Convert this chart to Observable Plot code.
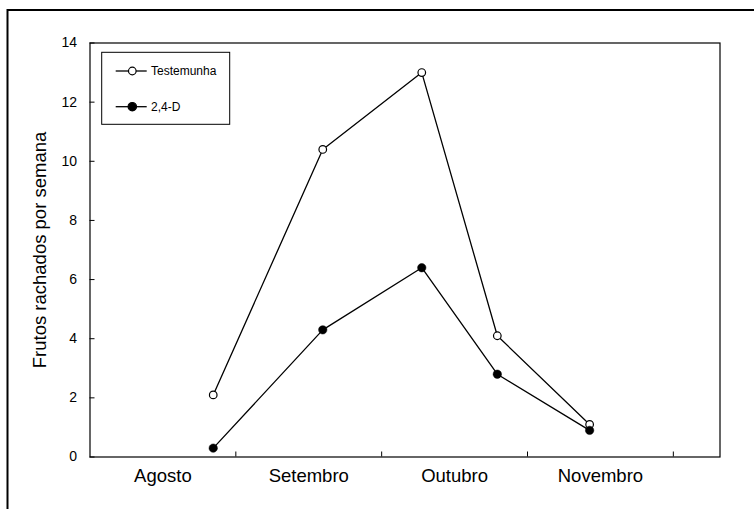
<!DOCTYPE html>
<html>
<head>
<meta charset="utf-8">
<script src="https://cdn.jsdelivr.net/npm/d3@7"></script>
<script src="https://cdn.jsdelivr.net/npm/@observablehq/plot@0.6"></script>
<style>
  html, body { margin: 0; padding: 0; background: #fff; }
  #chart svg { display: block; }
</style>
</head>
<body>
<div id="chart"></div>
<script>
// Month categories (x axis labels) and their centre positions (months since 1 August)
const months = ["Agosto", "Setembro", "Outubro", "Novembro"];
const monthCenters = [0.5, 1.5, 2.5, 3.5];
const monthBounds = [1, 2, 3, 4];
// Sampling positions (months since 1 August)
const weekPos = [0.845, 1.596, 2.275, 2.793, 3.426];
// Series
const testemunha = [2.1, 10.4, 13.0, 4.1, 1.1];
const d24 = [0.3, 4.3, 6.4, 2.8, 0.9];
const seriesNames = ["Testemunha", "2,4-D"];
const yTicks = [0, 2, 4, 6, 8, 10, 12, 14];
const yLabel = "Frutos rachados por semana";

const W = 754, H = 509;
const mL = 89.5, mR = 34.5, mT = 42.5, mB = 52.5;
const plotW = W - mL - mR, plotH = H - mT - mB;

const rows = [];
weekPos.forEach((x, i) => rows.push({x, y: testemunha[i], s: seriesNames[0]}));
weekPos.forEach((x, i) => rows.push({x, y: d24[i], s: seriesNames[1]}));
const rowsT = rows.filter(d => d.s === seriesNames[0]);
const rowsD = rows.filter(d => d.s === seriesNames[1]);

const chart = Plot.plot({
  width: W,
  height: H,
  marginLeft: mL,
  marginRight: mR,
  marginTop: mT,
  marginBottom: mB,
  style: {fontFamily: "'Liberation Sans', Arial, sans-serif", background: "#fff", color: "#000"},
  x: {domain: [0, 4.32]},
  y: {domain: [0, 14]},
  marks: [
    Plot.frame({stroke: "#000", strokeWidth: 1.2}),
    Plot.ruleX(monthBounds, {insetTop: plotH - 5, stroke: "#000", strokeWidth: 1}),
    Plot.ruleY(yTicks, {insetRight: plotW - 5, stroke: "#000", strokeWidth: 1}),
    Plot.axisY({ticks: yTicks, tickSize: 0, tickPadding: 13, fontSize: 14, label: null}),
    Plot.axisX({ticks: monthCenters, tickSize: 0, tickPadding: 12, fontSize: 18.5, label: null,
      tickFormat: v => months[monthCenters.indexOf(v)]}),
    Plot.text([yLabel], {frameAnchor: "left", textAnchor: "middle", lineAnchor: "middle",
      rotate: -90, dx: -50, fontSize: 18.5, fill: "#000"}),
    Plot.line(rows, {x: "x", y: "y", z: "s", stroke: "#000", strokeWidth: 1.3}),
    Plot.dot(rowsT, {x: "x", y: "y", r: 3.8, fill: "#fff", stroke: "#000", strokeWidth: 1.2}),
    Plot.dot(rowsD, {x: "x", y: "y", r: 4.2, fill: "#000", stroke: "#000", strokeWidth: 0.5})
  ]
});

document.getElementById("chart").appendChild(chart);

// Outer figure frame and in-plot legend
const svg = d3.select(chart);
svg.append("rect")
  .attr("x", 7.5).attr("y", 10)
  .attr("width", W + 20).attr("height", H + 20)
  .attr("fill", "none").attr("stroke", "#000").attr("stroke-width", 2);

const lg = svg.append("g")
  .attr("font-family", "'Liberation Sans', Arial, sans-serif")
  .attr("text-anchor", "start");
lg.append("rect")
  .attr("x", 101.7).attr("y", 52.3).attr("width", 128).attr("height", 72)
  .attr("fill", "#fff").attr("stroke", "#000").attr("stroke-width", 1);
const entries = [
  {name: seriesNames[0], y: 71, fill: "#fff", r: 3.8},
  {name: seriesNames[1], y: 106.7, fill: "#000", r: 4.2}
];
entries.forEach(e => {
  lg.append("line").attr("x1", 115.7).attr("x2", 146.7).attr("y1", e.y).attr("y2", e.y)
    .attr("stroke", "#000").attr("stroke-width", 1.3);
  lg.append("circle").attr("cx", 132.3).attr("cy", e.y).attr("r", e.r)
    .attr("fill", e.fill).attr("stroke", "#000").attr("stroke-width", 1.2);
  lg.append("text").attr("x", 151).attr("y", e.y).attr("dy", "0.35em")
    .attr("text-anchor", "start")
    .attr("font-size", 12).attr("fill", "#000").text(e.name);
});
</script>
</body>
</html>
